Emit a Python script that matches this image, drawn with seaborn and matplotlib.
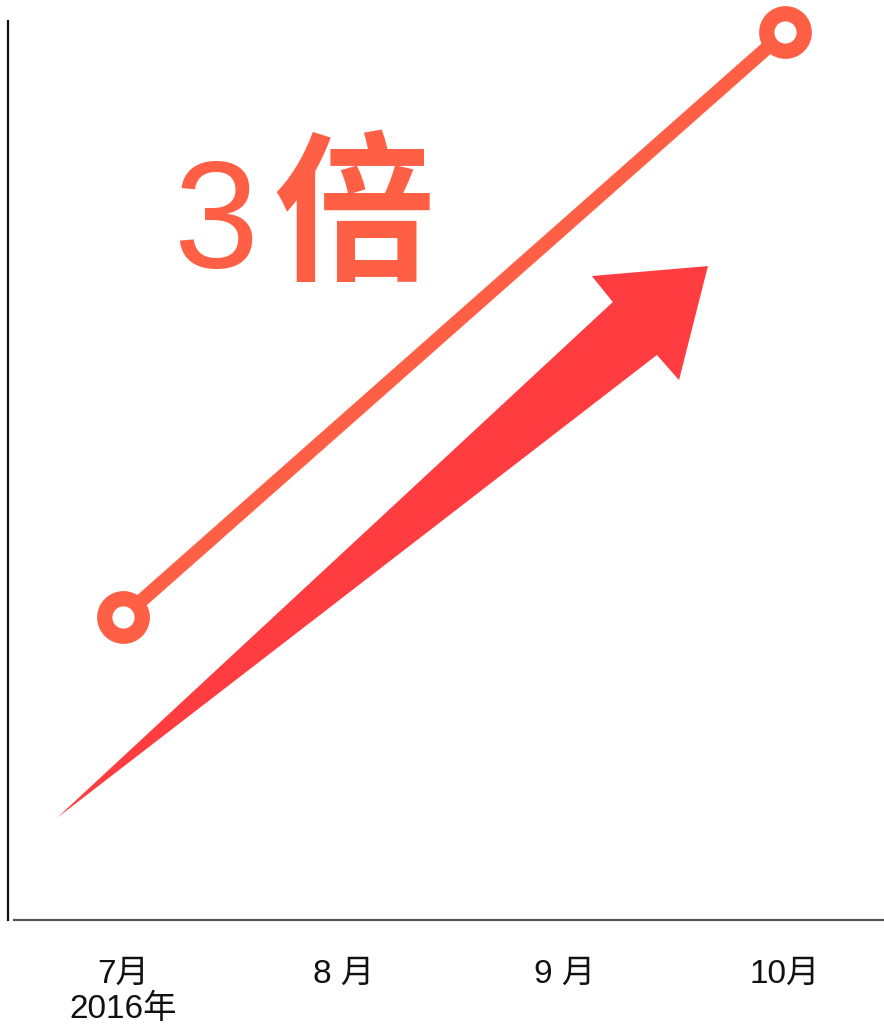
import matplotlib
matplotlib.use("Agg")
import matplotlib.pyplot as plt
import seaborn as sns
import pandas as pd
from matplotlib.patches import Polygon

# --- data ---
months = ["7月\n2016年", "8 月", "9 月", "10月"]
point_pos = [0, 3]          # months with a value (July and October)
point_values = [1, 3]       # October is three times July
headline_number = "3"
headline_unit = "倍"

# decorative trend arrow outline, in data units
arrow_x = [-0.299, 2.220, 2.125, 2.651, 2.520, 2.420]
arrow_y = [0.313, 2.077, 2.166, 2.200, 1.810, 1.896]

line_color = "#FF5F45"
arrow_color = "#FF3C40"

sns.set_theme(style="white")
plt.rcParams["font.family"] = ["Liberation Sans", "Noto Sans CJK SC", "DejaVu Sans"]

fig = plt.figure(figsize=(8.84, 10.26), dpi=100)
ax = fig.add_axes([8 / 884, 1 - 920 / 1026, 876 / 884, 899 / 1026])

df = pd.DataFrame({"pos": point_pos, "value": point_values})

ax.add_patch(Polygon(list(zip(arrow_x, arrow_y)), closed=True,
                     facecolor=arrow_color, edgecolor="none", zorder=2))

sns.lineplot(data=df, x="pos", y="value", ax=ax, color=line_color,
             linewidth=10, marker="o", markersize=27, markeredgewidth=11,
             markerfacecolor="white", markeredgecolor=line_color,
             solid_capstyle="butt", zorder=3, clip_on=False)

ax.set_xlim(-0.521, 3.449)
ax.set_ylim(-0.036, 3.038)

ax.set_xticks(range(len(months)))
ax.set_xticklabels(months, fontsize=24, color="#111111",
                   linespacing=1.17, va="top", ha="center", multialignment="center")
ax.tick_params(axis="x", length=0, pad=28)
ax.set_yticks([])
ax.set_xlabel("")
ax.set_ylabel("")

for side in ("top", "right"):
    ax.spines[side].set_visible(False)
ax.spines["left"].set_color("#111111")
ax.spines["left"].set_linewidth(1.6)
ax.spines["bottom"].set_color("#555555")
ax.spines["bottom"].set_linewidth(1.6)
ax.spines["bottom"].set_bounds(-0.494, 3.449)

# headline "3倍"
ax.text(0.189, 0.725, headline_number, transform=ax.transAxes,
        fontsize=110, color=line_color, family=["Liberation Sans"],
        ha="left", va="baseline")
ax.text(0.303, 0.725, headline_unit, transform=ax.transAxes,
        fontsize=116, color=line_color, family=["Noto Sans CJK SC"],
        fontweight="bold", ha="left", va="baseline")

fig.savefig("out.png", dpi=100, facecolor="white")
